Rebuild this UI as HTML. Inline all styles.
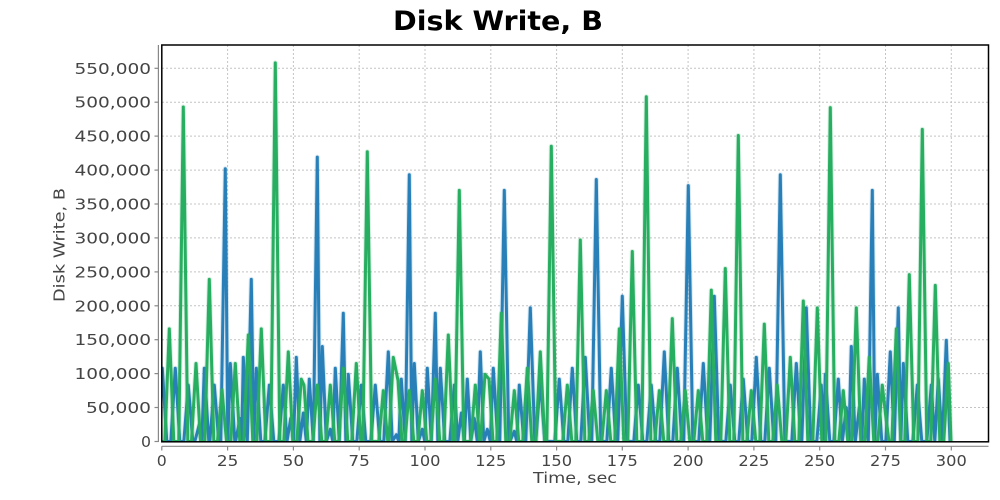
<!DOCTYPE html>
<html><head><meta charset="utf-8"><style>
html,body{margin:0;padding:0;background:#fff;}
svg{display:block;}
text{font-family:"DejaVu Sans","Liberation Sans",sans-serif;}
</style></head><body>
<svg width="1000" height="500" viewBox="0 0 1000 500" xmlns="http://www.w3.org/2000/svg">
<defs>
<clipPath id="pc"><rect x="162" y="45" width="826.5" height="397"/></clipPath>
</defs>
<rect x="0" y="0" width="1000" height="500" fill="#fff"/>
<text x="498" y="30" text-anchor="middle" font-size="27" font-weight="bold" fill="#000" textLength="210" lengthAdjust="spacingAndGlyphs">Disk Write, B</text>

<g stroke="#c4c4c4" stroke-width="1" stroke-dasharray="2,2" fill="none">
<line x1="162" x2="988" y1="407.5" y2="407.5"/>
<line x1="162" x2="988" y1="373.6" y2="373.6"/>
<line x1="162" x2="988" y1="339.7" y2="339.7"/>
<line x1="162" x2="988" y1="305.8" y2="305.8"/>
<line x1="162" x2="988" y1="271.9" y2="271.9"/>
<line x1="162" x2="988" y1="237.9" y2="237.9"/>
<line x1="162" x2="988" y1="204.0" y2="204.0"/>
<line x1="162" x2="988" y1="170.1" y2="170.1"/>
<line x1="162" x2="988" y1="136.1" y2="136.1"/>
<line x1="162" x2="988" y1="102.2" y2="102.2"/>
<line x1="162" x2="988" y1="68.3" y2="68.3"/>
<line y1="45" y2="442" x1="227.6" x2="227.6"/>
<line y1="45" y2="442" x1="293.4" x2="293.4"/>
<line y1="45" y2="442" x1="359.2" x2="359.2"/>
<line y1="45" y2="442" x1="425.0" x2="425.0"/>
<line y1="45" y2="442" x1="490.8" x2="490.8"/>
<line y1="45" y2="442" x1="556.6" x2="556.6"/>
<line y1="45" y2="442" x1="622.3" x2="622.3"/>
<line y1="45" y2="442" x1="688.1" x2="688.1"/>
<line y1="45" y2="442" x1="753.9" x2="753.9"/>
<line y1="45" y2="442" x1="819.7" x2="819.7"/>
<line y1="45" y2="442" x1="885.5" x2="885.5"/>
<line y1="45" y2="442" x1="951.3" x2="951.3"/>
</g>

<g clip-path="url(#pc)">
<g transform="matrix(1,0,0,-0.6786,0,441.5)" fill="none" stroke-linejoin="round" stroke-linecap="round">
<polyline id="b1" vector-effect="non-scaling-stroke" stroke="#2980b9" stroke-opacity="0.18" stroke-width="5" points="162.3,108 166.8,0 170.8,0 175.3,108 179.8,0 183.8,0 188.3,83 192.8,0 194.8,0 199.3,25 201.8,0 204.3,108 208.8,0 209.8,0 214.3,83 218.8,0 220.8,0 225.3,402 227.8,0 230.3,115 234.8,0 235.5,0 240,34 241.65,0 243.3,124 247.3,0 251.3,239 253.8,0 256.3,108 260.8,0 264.8,0 269.3,83 273.8,0 278.8,0 283.3,83 287,0 290.7,34 293.5,0 296.3,124 299.8,0 303.3,42 306.3,0 309.3,92 313.3,0 317.3,419 319.8,0 322.3,140 326.3,0 330.3,18 332.8,0 335.3,108 339.3,0 343.3,189 345.8,0 348.3,99 352.8,0 356.8,0 361.3,83 365.8,0 370.8,0 375.3,83 379.8,0 383.8,0 388.3,132 392.3,0 396.3,10 398.8,0 401.3,92 405.3,0 409.3,393 411.8,0 414.3,115 418.3,0 422.3,18 424.8,0 427.3,108 431.3,0 435.3,189 437.8,0 440.3,108 444.8,0 449.8,0 454.3,83 457.8,0 461.3,42 464.3,0 467.3,92 470.8,0 474.3,34 477.3,0 480.3,132 483.8,0 487.3,18 490.3,0 493.3,108 497.8,0 499.8,0 504.3,370 508.8,0 509.8,0 514.3,15 516.8,0 519.3,83 523.8,0 525.8,0 530.3,197 534.8,0 535.8,0 540.3,92 544.8,0 554.8,0 559.3,92 563.8,0 567.8,0 572.3,108 576.8,0 580.8,0 585.3,124 589.8,0 591.8,0 596.3,386 600.8,0 606.8,0 611.3,108 615.8,0 617.8,0 622.3,214 626.8,0 633.8,0 638.3,83 642.8,0 646.8,0 651.3,83 655.8,0 659.8,0 664.3,132 668.8,0 672.8,0 677.3,108 681.8,0 683.8,0 688.3,377 692.8,0 698.8,0 703.3,115 707.8,0 709.8,0 714.3,214 718.8,0 725.8,0 730.3,83 734.8,0 738.8,0 743.3,92 747.8,0 751.8,0 756.3,124 760.8,0 764.8,0 769.3,108 773.8,0 775.8,0 780.3,393 784.8,0 791.8,0 796.3,115 800.8,0 801.8,0 806.3,197 810.8,0 816.8,0 821.3,83 823.3,0 825.3,99 829.8,0 833.8,0 838.3,92 842.3,0 846.3,50 848.8,0 851.3,140 855.3,0 859.3,50 861.8,0 864.3,92 868.3,0 872.3,370 874.8,0 877.3,99 881.8,0 885.8,0 890.3,132 894.3,0 898.3,197 900.8,0 903.3,115 907.8,0 912.8,0 917.3,83 921.8,0 926.8,0 931.3,83 934.8,0 938.3,92 942.3,0 946.3,149 950,0"/>
<polyline vector-effect="non-scaling-stroke" stroke="#2980b9" stroke-width="3" points="162.3,108 166.8,0 170.8,0 175.3,108 179.8,0 183.8,0 188.3,83 192.8,0 194.8,0 199.3,25 201.8,0 204.3,108 208.8,0 209.8,0 214.3,83 218.8,0 220.8,0 225.3,402 227.8,0 230.3,115 234.8,0 235.5,0 240,34 241.65,0 243.3,124 247.3,0 251.3,239 253.8,0 256.3,108 260.8,0 264.8,0 269.3,83 273.8,0 278.8,0 283.3,83 287,0 290.7,34 293.5,0 296.3,124 299.8,0 303.3,42 306.3,0 309.3,92 313.3,0 317.3,419 319.8,0 322.3,140 326.3,0 330.3,18 332.8,0 335.3,108 339.3,0 343.3,189 345.8,0 348.3,99 352.8,0 356.8,0 361.3,83 365.8,0 370.8,0 375.3,83 379.8,0 383.8,0 388.3,132 392.3,0 396.3,10 398.8,0 401.3,92 405.3,0 409.3,393 411.8,0 414.3,115 418.3,0 422.3,18 424.8,0 427.3,108 431.3,0 435.3,189 437.8,0 440.3,108 444.8,0 449.8,0 454.3,83 457.8,0 461.3,42 464.3,0 467.3,92 470.8,0 474.3,34 477.3,0 480.3,132 483.8,0 487.3,18 490.3,0 493.3,108 497.8,0 499.8,0 504.3,370 508.8,0 509.8,0 514.3,15 516.8,0 519.3,83 523.8,0 525.8,0 530.3,197 534.8,0 535.8,0 540.3,92 544.8,0 554.8,0 559.3,92 563.8,0 567.8,0 572.3,108 576.8,0 580.8,0 585.3,124 589.8,0 591.8,0 596.3,386 600.8,0 606.8,0 611.3,108 615.8,0 617.8,0 622.3,214 626.8,0 633.8,0 638.3,83 642.8,0 646.8,0 651.3,83 655.8,0 659.8,0 664.3,132 668.8,0 672.8,0 677.3,108 681.8,0 683.8,0 688.3,377 692.8,0 698.8,0 703.3,115 707.8,0 709.8,0 714.3,214 718.8,0 725.8,0 730.3,83 734.8,0 738.8,0 743.3,92 747.8,0 751.8,0 756.3,124 760.8,0 764.8,0 769.3,108 773.8,0 775.8,0 780.3,393 784.8,0 791.8,0 796.3,115 800.8,0 801.8,0 806.3,197 810.8,0 816.8,0 821.3,83 823.3,0 825.3,99 829.8,0 833.8,0 838.3,92 842.3,0 846.3,50 848.8,0 851.3,140 855.3,0 859.3,50 861.8,0 864.3,92 868.3,0 872.3,370 874.8,0 877.3,99 881.8,0 885.8,0 890.3,132 894.3,0 898.3,197 900.8,0 903.3,115 907.8,0 912.8,0 917.3,83 921.8,0 926.8,0 931.3,83 934.8,0 938.3,92 942.3,0 946.3,149 950,0"/>
<polyline vector-effect="non-scaling-stroke" stroke="#27ae60" stroke-opacity="0.18" stroke-width="5" points="162.3,0 164.8,0 169.3,166 173.8,0 178.8,0 183.3,493 187.8,0 191.5,0 196,115 200.5,0 204.8,0 209.3,239 213.8,0 217.5,0 222,76 226.5,0 230.8,0 235.3,115 239.8,0 243.8,0 248.3,157 252.8,0 256.8,0 261.3,166 265.8,0 270.8,0 275.3,558 279.8,0 283.8,0 288.3,132 292.8,0 296.8,0 301.3,92 304,83 308,0 312.8,0 317.3,83 321.8,0 325.8,0 330.3,83 334.8,0 338.8,0 343.3,108 347.8,0 351.8,0 356.3,115 360.8,0 362.8,0 367.3,427 371.8,0 378.8,0 383.3,75 387.8,0 388.8,0 393.3,124 398,90 402,0 404.8,0 409.3,75 413.8,0 417.8,0 422.3,75 426.8,0 430.8,0 435.3,92 439.8,0 443.8,0 448.3,157 452.8,0 454.8,0 459.3,370 463.8,0 470.8,0 475.3,83 479.8,0 480.5,0 485,99 489,92 493,0 496.8,0 501.3,189 505.8,0 509.8,0 514.3,75 518.8,0 522.8,0 527.3,108 531.8,0 535.8,0 540.3,132 544.8,0 546.8,0 551.3,435 555.8,0 562.8,0 567.3,83 571.8,0 575.8,0 580.3,297 584.8,0 588.8,0 593.3,75 597.8,0 601.8,0 606.3,75 610.8,0 614.8,0 619.3,166 623.8,0 627.8,0 632.3,280 636.8,0 641.8,0 646.3,508 650.8,0 654.8,0 659.3,75 663.8,0 667.8,0 672.3,181 676.8,0 680.8,0 685.3,75 689.8,0 693.8,0 698.3,75 702.8,0 706.8,0 711.3,223 715.8,0 720.8,0 725.3,255 729.8,0 733.8,0 738.3,451 742.8,0 746.8,0 751.3,75 755.8,0 759.8,0 764.3,173 768.8,0 772.8,0 777.3,83 781.8,0 785.8,0 790.3,124 794.8,0 798.8,0 803.3,207 807.8,0 812.8,0 817.3,197 821.8,0 825.8,0 830.3,492 834.8,0 838.8,0 843.3,75 847.8,0 851.8,0 856.3,197 860.8,0 864.8,0 869.3,124 873.8,0 877.8,0 882.3,83 886,34 889,0 891.8,0 896.3,166 900.8,0 904.8,0 909.3,246 913.8,0 917.8,0 922.3,460 926.8,0 930.8,0 935.3,230 939.8,0 943.8,0 948.3,115 951,0"/>
<polyline vector-effect="non-scaling-stroke" stroke="#27ae60" stroke-width="3" points="162.3,0 164.8,0 169.3,166 173.8,0 178.8,0 183.3,493 187.8,0 191.5,0 196,115 200.5,0 204.8,0 209.3,239 213.8,0 217.5,0 222,76 226.5,0 230.8,0 235.3,115 239.8,0 243.8,0 248.3,157 252.8,0 256.8,0 261.3,166 265.8,0 270.8,0 275.3,558 279.8,0 283.8,0 288.3,132 292.8,0 296.8,0 301.3,92 304,83 308,0 312.8,0 317.3,83 321.8,0 325.8,0 330.3,83 334.8,0 338.8,0 343.3,108 347.8,0 351.8,0 356.3,115 360.8,0 362.8,0 367.3,427 371.8,0 378.8,0 383.3,75 387.8,0 388.8,0 393.3,124 398,90 402,0 404.8,0 409.3,75 413.8,0 417.8,0 422.3,75 426.8,0 430.8,0 435.3,92 439.8,0 443.8,0 448.3,157 452.8,0 454.8,0 459.3,370 463.8,0 470.8,0 475.3,83 479.8,0 480.5,0 485,99 489,92 493,0 496.8,0 501.3,189 505.8,0 509.8,0 514.3,75 518.8,0 522.8,0 527.3,108 531.8,0 535.8,0 540.3,132 544.8,0 546.8,0 551.3,435 555.8,0 562.8,0 567.3,83 571.8,0 575.8,0 580.3,297 584.8,0 588.8,0 593.3,75 597.8,0 601.8,0 606.3,75 610.8,0 614.8,0 619.3,166 623.8,0 627.8,0 632.3,280 636.8,0 641.8,0 646.3,508 650.8,0 654.8,0 659.3,75 663.8,0 667.8,0 672.3,181 676.8,0 680.8,0 685.3,75 689.8,0 693.8,0 698.3,75 702.8,0 706.8,0 711.3,223 715.8,0 720.8,0 725.3,255 729.8,0 733.8,0 738.3,451 742.8,0 746.8,0 751.3,75 755.8,0 759.8,0 764.3,173 768.8,0 772.8,0 777.3,83 781.8,0 785.8,0 790.3,124 794.8,0 798.8,0 803.3,207 807.8,0 812.8,0 817.3,197 821.8,0 825.8,0 830.3,492 834.8,0 838.8,0 843.3,75 847.8,0 851.8,0 856.3,197 860.8,0 864.8,0 869.3,124 873.8,0 877.8,0 882.3,83 886,34 889,0 891.8,0 896.3,166 900.8,0 904.8,0 909.3,246 913.8,0 917.8,0 922.3,460 926.8,0 930.8,0 935.3,230 939.8,0 943.8,0 948.3,115 951,0"/>
</g>
</g>

<rect x="161.8" y="45" width="826.7" height="396.8" fill="none" stroke="#000" stroke-width="1.5"/>

<g stroke="#888" stroke-width="1.2" fill="none">
<line x1="158.4" y1="45" x2="158.4" y2="442"/>
<line x1="154.5" x2="158.4" y1="441.5" y2="441.5"/>
<line x1="154.5" x2="158.4" y1="407.5" y2="407.5"/>
<line x1="154.5" x2="158.4" y1="373.6" y2="373.6"/>
<line x1="154.5" x2="158.4" y1="339.7" y2="339.7"/>
<line x1="154.5" x2="158.4" y1="305.8" y2="305.8"/>
<line x1="154.5" x2="158.4" y1="271.9" y2="271.9"/>
<line x1="154.5" x2="158.4" y1="237.9" y2="237.9"/>
<line x1="154.5" x2="158.4" y1="204.0" y2="204.0"/>
<line x1="154.5" x2="158.4" y1="170.1" y2="170.1"/>
<line x1="154.5" x2="158.4" y1="136.1" y2="136.1"/>
<line x1="154.5" x2="158.4" y1="102.2" y2="102.2"/>
<line x1="154.5" x2="158.4" y1="68.3" y2="68.3"/>
</g>
<g font-size="15" fill="#444" text-anchor="end">
<text x="151" y="447" textLength="10" lengthAdjust="spacingAndGlyphs">0</text>
<text x="151" y="413" textLength="65" lengthAdjust="spacingAndGlyphs">50,000</text>
<text x="151" y="379.1" textLength="76.5" lengthAdjust="spacingAndGlyphs">100,000</text>
<text x="151" y="345.2" textLength="76.5" lengthAdjust="spacingAndGlyphs">150,000</text>
<text x="151" y="311.3" textLength="76.5" lengthAdjust="spacingAndGlyphs">200,000</text>
<text x="151" y="277.4" textLength="76.5" lengthAdjust="spacingAndGlyphs">250,000</text>
<text x="151" y="243.4" textLength="76.5" lengthAdjust="spacingAndGlyphs">300,000</text>
<text x="151" y="209.5" textLength="76.5" lengthAdjust="spacingAndGlyphs">350,000</text>
<text x="151" y="175.6" textLength="76.5" lengthAdjust="spacingAndGlyphs">400,000</text>
<text x="151" y="141.6" textLength="76.5" lengthAdjust="spacingAndGlyphs">450,000</text>
<text x="151" y="107.7" textLength="76.5" lengthAdjust="spacingAndGlyphs">500,000</text>
<text x="151" y="73.8" textLength="76.5" lengthAdjust="spacingAndGlyphs">550,000</text>
</g>
<text transform="translate(64.5,245) rotate(-90)" x="0" y="0" text-anchor="middle" font-size="15" fill="#444" textLength="114" lengthAdjust="spacingAndGlyphs">Disk Write, B</text>

<g stroke="#888" stroke-width="1.2" fill="none">
<line x1="161.8" y1="446.3" x2="988.5" y2="446.3"/>
<line y1="446.3" y2="450.5" x1="161.8" x2="161.8"/>
<line y1="446.3" y2="450.5" x1="227.6" x2="227.6"/>
<line y1="446.3" y2="450.5" x1="293.4" x2="293.4"/>
<line y1="446.3" y2="450.5" x1="359.2" x2="359.2"/>
<line y1="446.3" y2="450.5" x1="425.0" x2="425.0"/>
<line y1="446.3" y2="450.5" x1="490.8" x2="490.8"/>
<line y1="446.3" y2="450.5" x1="556.6" x2="556.6"/>
<line y1="446.3" y2="450.5" x1="622.3" x2="622.3"/>
<line y1="446.3" y2="450.5" x1="688.1" x2="688.1"/>
<line y1="446.3" y2="450.5" x1="753.9" x2="753.9"/>
<line y1="446.3" y2="450.5" x1="819.7" x2="819.7"/>
<line y1="446.3" y2="450.5" x1="885.5" x2="885.5"/>
<line y1="446.3" y2="450.5" x1="951.3" x2="951.3"/>
</g>
<g font-size="15" fill="#444" text-anchor="middle">
<text x="161.8" y="466" textLength="10" lengthAdjust="spacingAndGlyphs">0</text>
<text x="227.6" y="466" textLength="21.5" lengthAdjust="spacingAndGlyphs">25</text>
<text x="293.4" y="466" textLength="21.5" lengthAdjust="spacingAndGlyphs">50</text>
<text x="359.2" y="466" textLength="21.5" lengthAdjust="spacingAndGlyphs">75</text>
<text x="425.0" y="466" textLength="31" lengthAdjust="spacingAndGlyphs">100</text>
<text x="490.8" y="466" textLength="31" lengthAdjust="spacingAndGlyphs">125</text>
<text x="556.6" y="466" textLength="31" lengthAdjust="spacingAndGlyphs">150</text>
<text x="622.3" y="466" textLength="31" lengthAdjust="spacingAndGlyphs">175</text>
<text x="688.1" y="466" textLength="31" lengthAdjust="spacingAndGlyphs">200</text>
<text x="753.9" y="466" textLength="31" lengthAdjust="spacingAndGlyphs">225</text>
<text x="819.7" y="466" textLength="31" lengthAdjust="spacingAndGlyphs">250</text>
<text x="885.5" y="466" textLength="31" lengthAdjust="spacingAndGlyphs">275</text>
<text x="951.3" y="466" textLength="31" lengthAdjust="spacingAndGlyphs">300</text>
</g>
<text x="575" y="483" text-anchor="middle" font-size="15" fill="#444" textLength="84" lengthAdjust="spacingAndGlyphs">Time, sec</text>
</svg>
</body></html>
